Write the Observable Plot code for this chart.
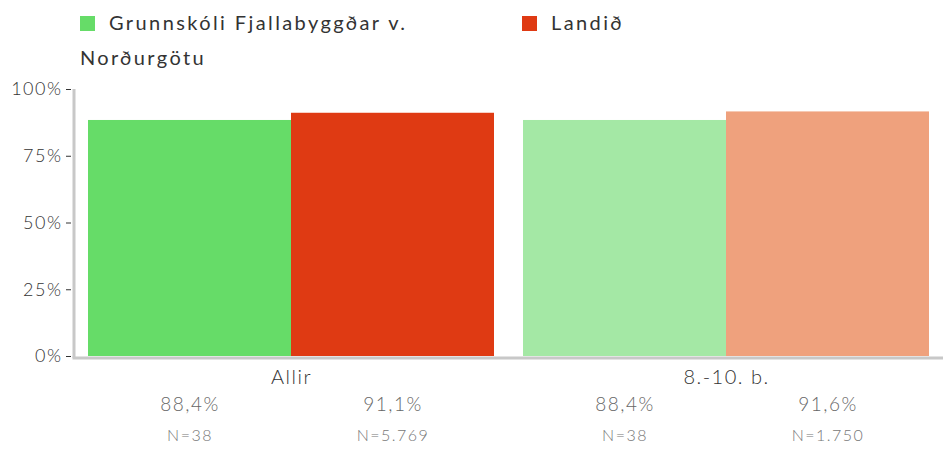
<!DOCTYPE html>
<html>
<head>
<meta charset="utf-8">
<script src="https://cdn.jsdelivr.net/npm/d3@7"></script>
<script src="https://cdn.jsdelivr.net/npm/@observablehq/plot@0.6"></script>
<style>
  html, body { margin: 0; padding: 0; background: #fff; }
  body { width: 952px; height: 457px; overflow: hidden; font-family: Lato, "Open Sans", sans-serif; }
  #legend { height: 70px; padding-left: 80px; box-sizing: border-box; padding-top: 5px; display: flex; flex-wrap: nowrap; }
  .item { font-size: 20px; letter-spacing: 2.4px; color: #333; line-height: 35px; }
  .item:first-child { width: 420px; margin-right: 22px; flex: none; }
  .sw { display: inline-block; width: 15px; height: 15px; margin-right: 14px; vertical-align: -1px; }
  svg text { letter-spacing: 1.5px; }
</style>
</head>
<body>
<div id="legend"></div>
<div id="chart"></div>
<script>
const groups = ["Allir", "8.-10. b."];
const series = ["Grunnskóli Fjallabyggðar v. Norðurgötu", "Landið"];
const valuesAllir = [88.4, 91.1];
const valuesEldri = [88.4, 91.6];
const nAllir = ["N=38", "N=5.769"];
const nEldri = ["N=38", "N=1.750"];
const yTicks = [0, 25, 50, 75, 100];
const barColors = ["#66dc68", "#df3a13", "#a4e8a5", "#efa17d"];
const legendColors = ["#66dc68", "#df3a13"];

const valueLists = [valuesAllir, valuesEldri];
const nLists = [nAllir, nEldri];
const data = [];
groups.forEach((g, gi) => series.forEach((s, si) => {
  data.push({group: g, series: s, value: valueLists[gi][si], n: nLists[gi][si], key: g + "|" + s});
}));
const keys = data.map(d => d.key);
const fmt = v => v.toFixed(1).replace(".", ",") + "%";

// legend
const legend = document.getElementById("legend");
series.forEach((s, i) => {
  const it = document.createElement("div");
  it.className = "item";
  const sw = document.createElement("span");
  sw.className = "sw";
  sw.style.background = legendColors[i];
  it.appendChild(sw);
  it.appendChild(document.createTextNode(s));
  legend.appendChild(it);
});

const plot = Plot.plot({
  width: 952,
  height: 387,
  marginLeft: 74,
  marginRight: 9,
  marginTop: 19,
  marginBottom: 101,
  style: {fontFamily: "Lato, 'Open Sans', sans-serif", fontSize: "18px", color: "#333", background: "#fff"},
  fx: {domain: groups, paddingInner: 29 / 436, paddingOuter: 0.03, label: null},
  x: {domain: series, padding: 0, axis: null},
  y: {domain: [0, 100], ticks: yTicks, label: null},
  color: {domain: keys, range: barColors},
  marks: [
    Plot.barY(data, {fx: "group", x: "series", y: "value", fill: "key"}),
    Plot.axisY({ticks: yTicks, tickFormat: d => d + "%", tickSize: 5, tickPadding: 4, dx: -17, label: null, fontSize: 18, fontWeight: 300, color: "#333"}),
    Plot.axisFx({anchor: "bottom", tickSize: 0, tickPadding: 13, label: null, fontSize: 20, fontWeight: 300, color: "#333"}),
    Plot.text(data, {fx: "group", x: "series", text: d => fmt(d.value), frameAnchor: "bottom", dy: 54, fontSize: 19, fontWeight: 300, fill: "#666"}),
    Plot.text(data, {fx: "group", x: "series", text: "n", frameAnchor: "bottom", dy: 84, fontSize: 16, fontWeight: 300, fill: "#777"})
  ]
});
document.getElementById("chart").appendChild(plot);

// axis line and baseline, from the plot's own scales
const ys = plot.scale("y");
const fxs = plot.scale("fx");
const svg = d3.select(plot.tagName.toLowerCase() === "svg" ? plot : plot.querySelector("svg"));
const x0 = fxs.range[0], x1 = fxs.range[1];
const yTop = ys.apply(100), yBot = ys.apply(0) + 2;
svg.append("line").attr("x1", x0).attr("x2", x0).attr("y1", yTop).attr("y2", yBot)
  .attr("stroke", "#c8c8c8").attr("stroke-width", 3);
svg.append("line").attr("x1", x0 - 1.5).attr("x2", x1).attr("y1", yBot).attr("y2", yBot)
  .attr("stroke", "#c8c8c8").attr("stroke-width", 3);
</script>
</body>
</html>
